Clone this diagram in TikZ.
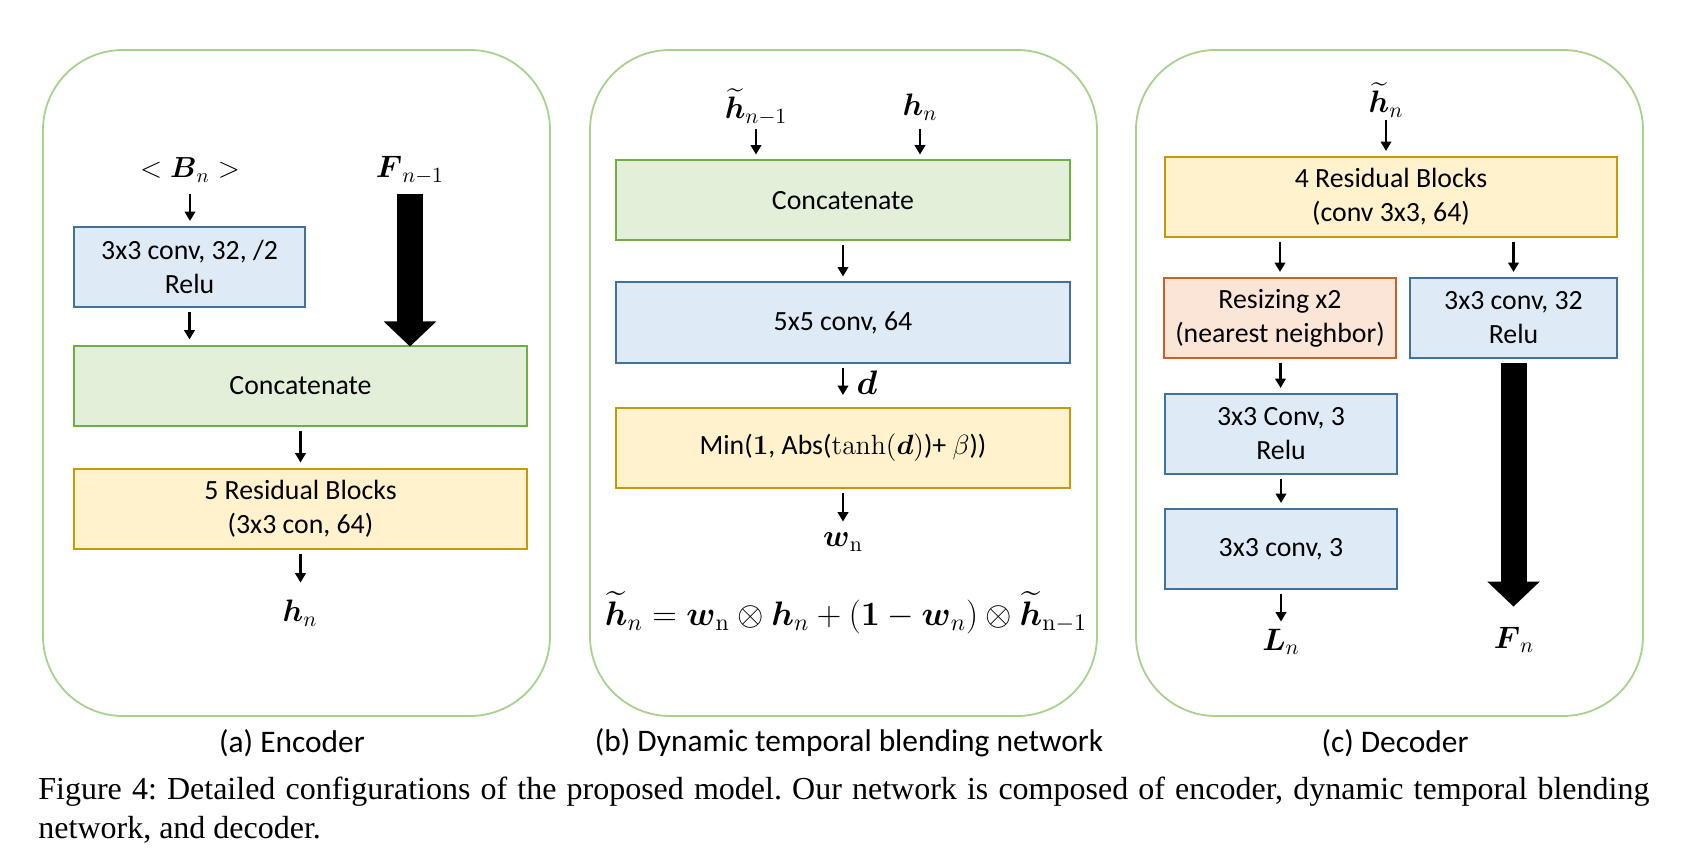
\RequirePackage{fix-cm}
\documentclass[tikz,border=0pt]{standalone}
\usepackage{amsmath}
\usepackage[no-math]{fontspec}
\setmainfont{Carlito}
\newfontfamily\capfont{Liberation Serif}
\usetikzlibrary{arrows.meta,positioning}

\definecolor{panelgreen}{HTML}{A9D18E}
\definecolor{greenfill}{HTML}{E2F0D9}
\definecolor{greenline}{HTML}{70AD47}
\definecolor{bluefill}{HTML}{DEEBF7}
\definecolor{blueline}{HTML}{41719C}
\definecolor{yellowfill}{HTML}{FFF2CC}
\definecolor{yellowline}{HTML}{C49A0A}
\definecolor{orangefill}{HTML}{FBE5D6}
\definecolor{orangeline}{HTML}{C8602A}

\tikzset{
  panel/.style={draw=panelgreen, line width=0.9pt, rounded corners=40pt},
  block/.style={draw, line width=1pt, minimum height=40pt, align=center, inner sep=2pt,
    font=\fontsize{13.9}{17}\selectfont},
  greenblock/.style={block, fill=greenfill, draw=greenline},
  blueblock/.style={block, fill=bluefill, draw=blueline},
  yellowblock/.style={block, fill=yellowfill, draw=yellowline},
  orangeblock/.style={block, fill=orangefill, draw=orangeline},
  lbl/.style={minimum height=20pt, inner sep=0pt, font=\fontsize{15.5}{18}\selectfont},
  flow/.style={line width=1.4pt, -{Triangle[length=4.7pt,width=5.2pt]},
    shorten <=2pt, shorten >=2.5pt},
  fat/.style={line width=13pt, -{Triangle[length=12.5pt,width=25.5pt]}, shorten <=2pt},
  subcap/.style={font=\fontsize{15.7}{18}\selectfont}
}

\begin{document}
\begin{tikzpicture}[x=0.5pt, y=-0.5pt]
  \useasboundingbox (0,0) rectangle (1692,861);

  % panels
  \draw[panel] (43,50) rectangle (550,716);
  \draw[panel] (590,50) rectangle (1097,716);
  \draw[panel] (1136,50) rectangle (1643,716);

  % (a) encoder
  \node[lbl, font=\fontsize{14.5}{17}\selectfont] (Bn) at (190,170) {$<\boldsymbol{B}_n>$};
  \node[lbl] (Fprev) at (410,170) {$\boldsymbol{F}_{n-1}$};
  \node[blueblock, minimum width=115.5pt] (convA) at (189.5,267) {3x3 conv, 32, /2\\Relu};
  \node[greenblock, minimum width=226.5pt] (concatA) at (300.5,385.5) {Concatenate};
  \node[yellowblock, minimum width=226.5pt] (resA) at (300.5,508.5) {5 Residual Blocks\\(3x3 con, 64)};
  \node[lbl] (hA) at (300,613) {$\boldsymbol{h}_n$};

  \draw[flow] (Bn.south) -- (Bn.south |- convA.north);
  \draw[flow] (convA.south) -- (convA.south |- concatA.north);
  \draw[flow] (concatA) -- (resA);
  \draw[flow, shorten >=5pt] (resA.south) -- (resA.south |- hA.north);
  \draw[fat, shorten >=-1pt] (Fprev.south) -- (Fprev.south |- concatA.north);

  % (b) dynamic temporal blending
  \node[lbl] (hprev) at (756,107) {$\widetilde{\boldsymbol{h}}_{n-1}$};
  \node[lbl] (hB) at (920,107) {$\boldsymbol{h}_n$};
  \node[greenblock, minimum width=227pt] (concatB) at (843,200.5) {Concatenate};
  \node[blueblock, minimum width=227pt] (convB) at (843,322.5) {5x5 conv, 64};
  \node[yellowblock, minimum width=227pt] (minB) at (843,448)
    {Min($\mathbf{1}$, Abs($\tanh(\boldsymbol{d})$)+ $\beta$))};
  \node[lbl, font=\fontsize{17}{20}\selectfont] (dB) at (867,383) {$\boldsymbol{d}$};
  \node[lbl] (wn) at (843,542) {$\boldsymbol{w}_{\mathrm{n}}$};
  \node[lbl, font=\fontsize{17}{20}\selectfont] (blend) at (846,613)
    {$\widetilde{\boldsymbol{h}}_n = \boldsymbol{w}_{\mathrm{n}} \otimes \boldsymbol{h}_n
      + (\mathbf{1} - \boldsymbol{w}_n) \otimes \widetilde{\boldsymbol{h}}_{\mathrm{n-1}}$};

  \draw[flow, shorten <=1pt] (hprev.south) -- (hprev.south |- concatB.north);
  \draw[flow, shorten <=1pt] (hB.south) -- (hB.south |- concatB.north);
  \draw[flow] (concatB) -- (convB);
  \draw[flow, shorten >=6pt] (convB) -- (minB);
  \draw[flow, shorten >=0pt] (minB) -- (wn);

  % (c) decoder
  \node[lbl] (hC) at (1386,100) {$\widetilde{\boldsymbol{h}}_n$};
  \node[yellowblock, minimum width=226pt] (resC) at (1391,197) {4 Residual Blocks\\(conv 3x3, 64)};
  \node[orangeblock, minimum width=116pt] (resize) at (1280,318) {Resizing x2\\(nearest neighbor)};
  \node[blueblock, minimum width=103.5pt] (convC) at (1513.5,318) {3x3 conv, 32\\Relu};
  \node[blueblock, minimum width=116pt] (convRelu) at (1281,434) {3x3 Conv, 3\\Relu};
  \node[blueblock, minimum width=116pt] (convOut) at (1281,549) {3x3 conv, 3};
  \node[lbl] (Ln) at (1281,642) {$\boldsymbol{L}_n$};
  \node[lbl] (Fn) at (1514,640) {$\boldsymbol{F}_n$};

  \draw[flow, shorten <=0pt] (hC.south) -- (hC.south |- resC.north);
  \draw[flow] (resC.south -| resize) -- (resize.north);
  \draw[flow] (resC.south -| convC) -- (convC.north);
  \draw[flow] (resize) -- (convRelu);
  \draw[flow] (convRelu) -- (convOut);
  \draw[flow, shorten >=0pt] (convOut) -- (Ln);
  \draw[fat, shorten >=6.5pt] (convC.south) -- (convC.south |- Fn.north);

  % captions
  \node[subcap] (capA) at (292,743) {(a) Encoder};
  \node[subcap] (capB) at (849,743) {(b) Dynamic temporal blending network};
  \node[subcap] (capC) at (1395,743) {(c) Decoder};
  \node[anchor=north west, inner sep=0pt, text width=805.5pt, align=justify,
    font=\capfont\fontsize{16}{19.5}\selectfont] (figcap) at (38,777)
    {\frenchspacing Figure 4: Detailed configurations of the proposed model. Our network is composed of encoder, dynamic temporal blending\linebreak network, and decoder.};
\end{tikzpicture}
\end{document}
